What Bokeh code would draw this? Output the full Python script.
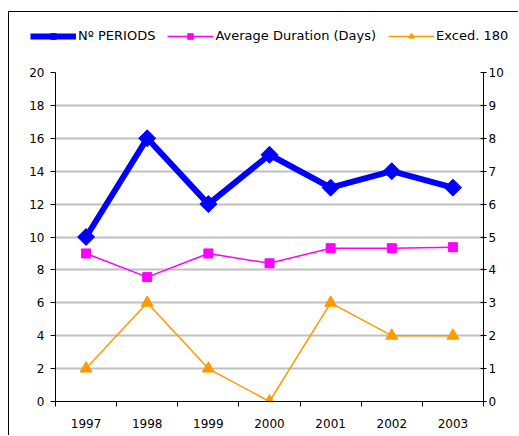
import math
from bokeh.plotting import figure
from bokeh.layouts import column
from bokeh.models import (Range1d, LinearAxis, FixedTicker, Legend, LegendItem)
from bokeh.embed import file_html
from bokeh.resources import INLINE

years = ["1997", "1998", "1999", "2000", "2001", "2002", "2003"]
n_periods = [10, 16, 12, 15, 13, 14, 13]
avg_duration = [4.5, 3.78, 4.5, 4.2, 4.66, 4.66, 4.69]
exceed_180 = [1, 3, 1, 0, 3, 2, 2]
left_ticks = [0, 2, 4, 6, 8, 10, 12, 14, 16, 18, 20]
right_ticks = [0, 1, 2, 3, 4, 5, 6, 7, 8, 9, 10]
series_names = ["N\u00ba PERIODS", "Average Duration (Days)", "Exced. 180"]

x = list(range(len(years)))
FONT = "DejaVu Sans"
FS = "12px"
BLUE, MAGENTA, ORANGE = "#0000ff", "#ff00ff", "#ff9900"

# ---------------- main chart ----------------
p = figure(width=510, height=378, output_backend="svg", toolbar_location=None,
           x_range=Range1d(-0.5, len(years) - 0.5), y_range=Range1d(0, 20),
           min_border_left=46, min_border_right=36, min_border_top=15, min_border_bottom=34)
p.frame_align = False
p.styles = {"border-left": "1px solid black"}
p.outline_line_color = None
p.background_fill_color = "white"
p.border_fill_color = "white"
p.extra_y_ranges = {"right": Range1d(0, 10)}

p.xgrid.visible = False
p.ygrid.ticker = FixedTicker(ticks=left_ticks)
p.ygrid.grid_line_color = "#c0c0c0"
p.ygrid.grid_line_width = 2

ly = p.yaxis[0]
ly.ticker = FixedTicker(ticks=left_ticks)
ly.major_tick_in = 0
ly.major_tick_out = 5
ly.minor_tick_line_color = None
ly.axis_line_color = "black"
ly.major_label_text_font = FONT
ly.major_label_text_font_size = FS
ly.major_label_text_color = "black"
ly.major_label_standoff = 6

xa = p.xaxis[0]
xa.ticker = FixedTicker(ticks=x, minor_ticks=[i - 0.5 for i in range(len(years) + 1)])
xa.major_label_overrides = {i: y for i, y in enumerate(years)}
xa.major_tick_in = 0
xa.major_tick_out = 0
xa.minor_tick_in = 0
xa.minor_tick_out = 5
xa.minor_tick_line_color = "black"
xa.major_label_text_font = FONT
xa.major_label_text_font_size = FS
xa.major_label_text_color = "black"
xa.major_label_standoff = 12

ra = LinearAxis(y_range_name="right", ticker=FixedTicker(ticks=right_ticks))
ra.major_tick_in = 3
ra.major_tick_out = 3
ra.minor_tick_line_color = None
ra.major_label_text_font = FONT
ra.major_label_text_font_size = FS
ra.major_label_text_color = "black"
ra.major_label_standoff = 2
p.add_layout(ra, "right")

p.line(x, n_periods, line_color=BLUE, line_width=6)
p.scatter(x, n_periods, marker="square", angle=math.pi / 4, size=12,
          fill_color=BLUE, line_color=BLUE)
p.line(x, avg_duration, y_range_name="right", line_color=MAGENTA, line_width=1.5)
p.scatter(x, avg_duration, y_range_name="right", marker="square", size=9,
          fill_color=MAGENTA, line_color=MAGENTA)
p.line(x, exceed_180, y_range_name="right", line_color=ORANGE, line_width=1.5)
p.scatter(x, exceed_180, y_range_name="right", marker="triangle", size=12,
          fill_color=ORANGE, line_color=ORANGE)

# ---------------- legend strip (separate figure, series kept out of its view) ----------------
t = figure(width=510, height=46, output_backend="svg", toolbar_location=None,
           x_axis_location=None, y_axis_location=None,
           x_range=Range1d(100, 101), y_range=Range1d(100, 101),
           min_border_left=0, min_border_right=0, min_border_top=0, min_border_bottom=0)
t.frame_align = False
t.styles = {"border-left": "1px solid black", "border-top": "1px solid black"}
t.grid.visible = False
t.outline_line_color = None
t.border_fill_color = "white"
t.background_fill_color = "white"

g1 = t.line(x, n_periods, line_color=BLUE, line_width=6)
s1 = t.scatter(x, n_periods, marker="square", angle=math.pi / 4, size=10, fill_color=BLUE, line_color=BLUE)
g2 = t.line(x, avg_duration, line_color=MAGENTA, line_width=1.5)
s2 = t.scatter(x, avg_duration, marker="square", size=9, fill_color=MAGENTA, line_color=MAGENTA)
g3 = t.line(x, exceed_180, line_color=ORANGE, line_width=1.5)
s3 = t.scatter(x, exceed_180, marker="triangle", size=10, fill_color=ORANGE, line_color=ORANGE)

legend = Legend(items=[
    LegendItem(label=series_names[0], renderers=[g1, s1]),
    LegendItem(label=series_names[1], renderers=[g2, s2]),
    LegendItem(label=series_names[2], renderers=[g3, s3]),
], orientation="horizontal", location=(21, 15))
legend.border_line_color = None
legend.background_fill_alpha = 0
legend.label_text_font = FONT
legend.label_text_font_size = "13px"
legend.label_text_color = "black"
legend.glyph_width = 46
legend.glyph_height = 14
legend.label_standoff = 2
legend.spacing = 12
legend.padding = 0
legend.margin = 0
legend.label_height = 14
t.add_layout(legend)

lay = column(t, p, spacing=0)
lay.styles = {"margin-left": "8px", "margin-top": "11px"}

open("out.html", "w").write(file_html(lay, INLINE))
